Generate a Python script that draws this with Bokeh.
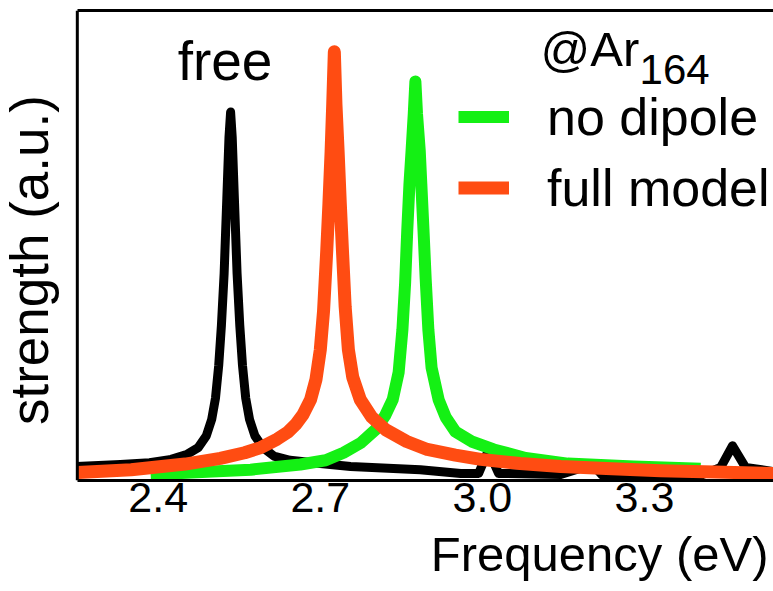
import math
from bokeh.plotting import figure
from bokeh.models import Range1d, FixedTicker, Label, Legend, LegendItem, Title, LinearAxis, Span
from bokeh.embed import file_html
from bokeh.resources import INLINE

# ---- data ----
free_x = [2.249, 2.330, 2.384, 2.424, 2.454, 2.474, 2.489, 2.499, 2.506, 2.512, 2.517, 2.522,
          2.527, 2.531, 2.534, 2.537, 2.541, 2.546, 2.551, 2.556, 2.562, 2.569, 2.579, 2.594,
          2.614, 2.644, 2.700, 2.756, 2.885, 2.960, 2.993, 3.011, 3.030, 3.145, 3.204, 3.222,
          3.404, 3.441, 3.463, 3.487, 3.539]
free_y = [3.0, 3.4, 3.8, 4.5, 5.6, 7.0, 9.5, 13.0, 17.5, 24.5, 33.0, 44.0,
          60.0, 73.0, 78.4, 73.0, 60.0, 44.0, 33.0, 24.5, 17.5, 13.0, 9.5, 7.0,
          5.2, 4.3, 3.6, 3.0, 2.3, 1.5, 1.5, 6.4, 1.5, 1.3, 3.4, 1.1,
          1.1, 2.8, 7.4, 2.8, 1.9]

nodip_x = [2.386, 2.500, 2.571, 2.663, 2.710, 2.743, 2.775, 2.802, 2.820, 2.834, 2.845, 2.852,
           2.857, 2.861, 2.865, 2.869, 2.873, 2.876, 2.879, 2.884, 2.887, 2.891, 2.895, 2.900,
           2.906, 2.919, 2.932, 2.950, 2.980, 3.021, 3.080, 3.158, 3.280, 3.404]
nodip_y = [1.3, 1.9, 2.3, 3.4, 4.3, 5.9, 8.0, 10.8, 13.8, 17.2, 23.0, 32.1,
           42.0, 53.3, 63.0, 70.3, 78.0, 84.9, 78.0, 70.3, 63.0, 53.3, 43.0, 32.1,
           24.0, 17.2, 13.5, 10.4, 8.3, 6.6, 4.8, 3.6, 3.0, 2.5]

full_x = [2.251, 2.350, 2.450, 2.515, 2.560, 2.590, 2.620, 2.640, 2.655, 2.668, 2.682, 2.692,
          2.700, 2.706, 2.712, 2.716, 2.720, 2.723, 2.726, 2.729, 2.733, 2.737, 2.741, 2.746,
          2.752, 2.760, 2.774, 2.795, 2.821, 2.860, 2.898, 2.950, 2.997, 3.070, 3.145, 3.240,
          3.330, 3.430, 3.539]
full_y = [1.7, 2.3, 3.5, 4.7, 5.9, 7.0, 8.8, 10.3, 12.0, 14.0, 17.2, 21.5,
          27.8, 36.0, 49.0, 59.0, 70.0, 80.0, 91.2, 80.0, 70.0, 59.0, 49.0, 37.0,
          27.8, 22.0, 17.2, 13.5, 10.8, 8.3, 6.6, 5.4, 4.5, 3.6, 3.0, 2.5,
          2.1, 1.8, 1.5]

tick_values = [2.4, 2.7, 3.0, 3.3]
tick_labels = ["2.4", "2.7", "3.0", "3.3"]

X_LEFT = 2.2503   # left edge of the plotted box
X_END = 3.5388

FONT = "Liberation Sans"
GREEN = "#14F014"
ORANGE = "#FF4C12"

p = figure(width=773, height=591, output_backend="svg", toolbar_location=None,
           x_range=Range1d(2.10813, X_END), y_range=Range1d(0, 100),
           min_border_left=0, min_border_right=0, min_border_top=10, min_border_bottom=110)
p.background_fill_color = "white"
p.border_fill_color = "white"
p.grid.visible = False
p.outline_line_color = None

# axes
p.yaxis.visible = False
p.xaxis.bounds = (X_LEFT, X_END)
p.xaxis.ticker = FixedTicker(ticks=tick_values)
p.xaxis.major_label_overrides = {v: s for v, s in zip(tick_values, tick_labels)}
p.xaxis.major_tick_out = 0
p.xaxis.major_tick_in = 0
p.xaxis.minor_tick_out = 0
p.xaxis.minor_tick_in = 0
p.xaxis.axis_line_width = 3
p.xaxis.major_label_standoff = 2
p.xaxis.major_label_text_font = FONT
p.xaxis.major_label_text_font_size = "43px"
p.xaxis.major_label_text_color = "black"

top_axis = LinearAxis(bounds=(X_LEFT, X_END), ticker=FixedTicker(ticks=[]),
                      major_tick_out=0, major_tick_in=0, minor_tick_out=0, minor_tick_in=0,
                      major_label_standoff=0, major_label_text_font_size="0px",
                      axis_line_width=3, axis_line_color="black")
p.add_layout(top_axis, "above")
p.add_layout(Span(location=X_LEFT, dimension="height", line_color="black", line_width=3))

# x axis title (right aligned, below the axis)
p.add_layout(Title(text="Frequency (eV)", align="right", offset=5, standoff=21,
                   text_font=FONT, text_font_size="49px", text_font_style="normal",
                   text_color="black"), "below")

# curves
r_free = p.line(free_x, free_y, line_color="black", line_width=9, line_join="round")
r_nod = p.line(nodip_x, nodip_y, line_color=GREEN, line_width=12, line_join="round")
r_full = p.line(full_x, full_y, line_color=ORANGE, line_width=13, line_join="round")

legend = Legend(items=[LegendItem(label="no dipole", renderers=[r_nod]),
                       LegendItem(label="full model", renderers=[r_full])],
                location=(458, 257), glyph_width=51, glyph_height=71, label_height=71,
                spacing=0, padding=0, margin=0, label_standoff=38,
                border_line_color=None, background_fill_alpha=0,
                label_text_font=FONT, label_text_font_size="52px", label_text_color="black")
p.add_layout(legend)

# texts
p.add_layout(Label(x=2.1618, y=46.9, text="strength (a.u.)", text_font=FONT, text_font_size="53px",
                   text_baseline="alphabetic", text_align="center", angle=math.pi / 2,
                   text_color="black"))
p.add_layout(Label(x=2.436, y=89.3, text="free", text_font=FONT, text_font_size="55px",
                   text_baseline="alphabetic", text_align="left", text_color="black"))
p.add_layout(Label(x=3.1076, y=91.8, text="@Ar", text_font=FONT, text_font_size="49px",
                   text_baseline="alphabetic", text_align="left", text_color="black"))
p.add_layout(Label(x=3.291, y=87.5, text="164", text_font=FONT, text_font_size="42px",
                   text_baseline="alphabetic", text_align="left", text_color="black"))

open("out.html", "w").write(file_html(p, INLINE))
